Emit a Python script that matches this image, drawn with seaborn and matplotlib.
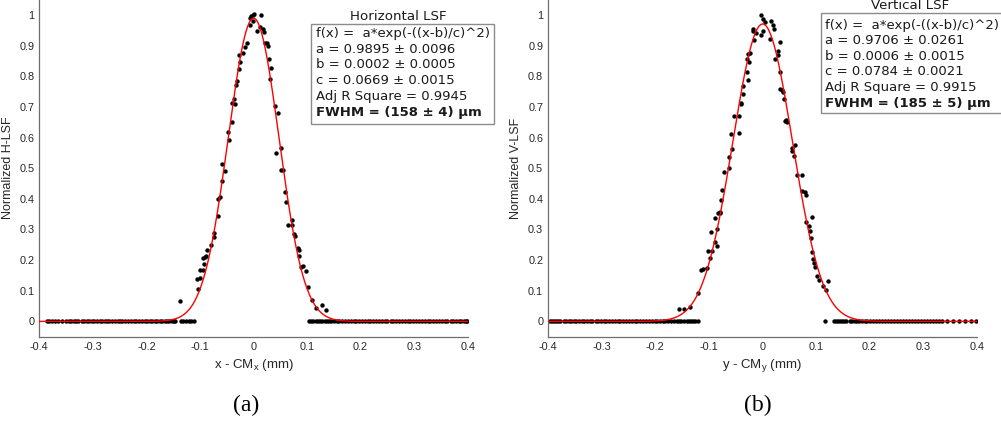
import numpy as np
import matplotlib
matplotlib.use("Agg")
import matplotlib.pyplot as plt
import seaborn as sns
from matplotlib.patches import Rectangle

# ---------------- Horizontal LSF: measured points ----------------
h_peak_x = [-0.0065, -0.0041, -0.0009, 0.0016, 0.0140, -0.0016, -0.0065, 0.0059, 0.0128,
            0.0183, 0.0190, 0.0220, 0.0258, 0.0264, -0.0128, -0.0152, -0.0196, -0.0270,
            -0.0252, 0.0296, 0.0326, -0.0277, 0.0302, -0.0302, -0.0326, -0.0357, -0.0395,
            -0.0351, 0.0395,
            0.046, 0.042, 0.052, 0.052, 0.056, 0.059, 0.060, 0.064, 0.071, 0.072, 0.076,
            0.077, 0.084, 0.085, 0.085, 0.089, 0.092, 0.098, 0.102, 0.109, 0.117, 0.128, 0.136,
            -0.041, -0.047, -0.046, -0.058, -0.053, -0.059, -0.062, -0.067, -0.067, -0.074,
            -0.073, -0.079, -0.087, -0.091, -0.088, -0.094, -0.092, -0.099, -0.094, -0.099,
            -0.106, -0.104, -0.138]
h_peak_y = [0.990, 0.996, 1.000, 1.002, 1.001, 0.980, 0.966, 0.948, 0.962,
            0.955, 0.945, 0.910, 0.908, 0.898, 0.907, 0.897, 0.877, 0.869,
            0.847, 0.856, 0.826, 0.823, 0.792, 0.783, 0.772, 0.727, 0.712,
            0.709, 0.704,
            0.679, 0.548, 0.565, 0.494, 0.494, 0.422, 0.391, 0.314, 0.331, 0.314, 0.286,
            0.278, 0.240, 0.232, 0.213, 0.178, 0.180, 0.164, 0.111, 0.069, 0.043, 0.054, 0.038,
            0.651, 0.617, 0.593, 0.515, 0.492, 0.457, 0.406, 0.401, 0.345, 0.289,
            0.277, 0.250, 0.233, 0.210, 0.214, 0.206, 0.188, 0.169, 0.167, 0.143,
            0.139, 0.105, 0.065]
# samples sitting on the baseline
h_zero_x = [-0.386, -0.382, -0.377, -0.371, -0.366, -0.358, -0.351, -0.345, -0.341, -0.336,
            -0.331, -0.327, -0.321, -0.316, -0.311, -0.307, -0.302, -0.297, -0.292, -0.287,
            -0.283, -0.278, -0.274, -0.270, -0.264, -0.258, -0.253, -0.249, -0.245, -0.240,
            -0.234, -0.229, -0.224, -0.220, -0.214, -0.208, -0.203, -0.199, -0.194, -0.189,
            -0.184, -0.180, -0.175, -0.170, -0.165, -0.161, -0.157, -0.153, -0.149, -0.146,
            -0.136, -0.131, -0.126, -0.121, -0.116, -0.111,
            0.104, 0.108, 0.112, 0.116, 0.120, 0.124, 0.128, 0.133, 0.137, 0.141, 0.145,
            0.150, 0.155, 0.160, 0.166, 0.171, 0.176, 0.182, 0.187, 0.192, 0.197, 0.203,
            0.208, 0.213, 0.218, 0.224, 0.229, 0.234, 0.240, 0.245, 0.250, 0.256, 0.261,
            0.266, 0.272, 0.277, 0.282, 0.288, 0.293, 0.298, 0.304, 0.309, 0.314, 0.320,
            0.325, 0.330, 0.336, 0.341, 0.346, 0.352, 0.357, 0.362, 0.368, 0.373, 0.378,
            0.383, 0.388, 0.393, 0.397, 0.399]

# ---------------- Vertical LSF: measured points ----------------
v_peak_x = [-0.003, 0.002, 0.0057, 0.0156, 0.020, 0.0224, -0.018, -0.0167, -0.0118, 0.0013,
            -0.0024, 0.0144, -0.0155, 0.0336, 0.0293, -0.0236, -0.0267, 0.0293, -0.0292,
            0.0243, -0.0254, 0.033, -0.0292, -0.0261, -0.0354, 0.0336, 0.0361, 0.0392,
            -0.036, 0.0411, -0.0397, 0.0442,
            -0.156, -0.147, -0.1355, -0.120, -0.115, -0.111, -0.103, -0.102, -0.0976,
            -0.0957, -0.0938, -0.0883, -0.0876, -0.0845, -0.0851, -0.0833, -0.0795, -0.0789,
            -0.0765, -0.0758, -0.0708, -0.0621, -0.0621, -0.0565, -0.0578, -0.0528, -0.0441,
            -0.0441, -0.0404,
            0.0424, 0.0461, 0.0548, 0.0554, 0.0617, 0.0592, 0.0647, 0.0741, 0.0741, 0.0797,
            0.0815, 0.0821, 0.0877, 0.0927, 0.089, 0.0909, 0.0921, 0.0946, 0.0971, 0.0989,
            0.1014, 0.1058, 0.1132, 0.1188, 0.1232]
v_peak_y = [1.001, 0.988, 0.976, 0.979, 0.966, 0.954, 0.955, 0.948, 0.940, 0.948,
            0.934, 0.921, 0.917, 0.912, 0.884, 0.876, 0.874, 0.868, 0.855,
            0.855, 0.847, 0.815, 0.814, 0.789, 0.767, 0.759, 0.754, 0.749,
            0.742, 0.725, 0.712, 0.658,
            0.039, 0.041, 0.047, 0.094, 0.169, 0.171, 0.175, 0.229, 0.207,
            0.292, 0.230, 0.338, 0.258, 0.246, 0.301, 0.353, 0.355, 0.357,
            0.396, 0.428, 0.488, 0.501, 0.538, 0.561, 0.610, 0.670, 0.616,
            0.670, 0.711,
            0.655, 0.651, 0.567, 0.557, 0.577, 0.539, 0.478, 0.477, 0.424, 0.422,
            0.413, 0.324, 0.310, 0.341, 0.294, 0.271, 0.226, 0.204, 0.190, 0.178,
            0.147, 0.136, 0.117, 0.101, 0.132]
v_zero_x = [-0.397, -0.393, -0.389, -0.385, -0.381, -0.377, -0.371, -0.366, -0.361, -0.357,
            -0.352, -0.347, -0.342, -0.337, -0.332, -0.327, -0.322, -0.317, -0.311, -0.306,
            -0.301, -0.296, -0.291, -0.286, -0.280, -0.275, -0.270, -0.265, -0.260, -0.254,
            -0.249, -0.243, -0.238, -0.233, -0.228, -0.222, -0.217, -0.211, -0.206, -0.201,
            -0.196, -0.191, -0.186, -0.181, -0.176, -0.171, -0.165, -0.160, -0.155, -0.151,
            -0.146, -0.141, -0.137, -0.133, -0.129, -0.125, -0.120,
            0.117, 0.133, 0.137, 0.141, 0.145, 0.149, 0.153, 0.157, 0.163, 0.168, 0.172,
            0.176, 0.181, 0.186, 0.191, 0.196, 0.201, 0.207, 0.212, 0.218, 0.223, 0.229,
            0.235, 0.240, 0.245, 0.251, 0.256, 0.262, 0.268, 0.273, 0.279, 0.285, 0.290,
            0.296, 0.301, 0.307, 0.313, 0.318, 0.324, 0.330, 0.336, 0.345, 0.356, 0.367,
            0.378, 0.389, 0.398]

# Gaussian fit parameters f(x) = a*exp(-((x-b)/c)^2)
h_fit = dict(a=0.9895, b=0.0002, c=0.0669)
v_fit = dict(a=0.9706, b=0.0006, c=0.0784)

h_box_lines = ["f(x) =  a*exp(-((x-b)/c)^2)", "a = 0.9895 \u00b1 0.0096",
               "b = 0.0002 \u00b1 0.0005", "c = 0.0669 \u00b1 0.0015",
               "Adj R Square = 0.9945", "FWHM = (158 \u00b1 4) \u03bcm"]
v_box_lines = ["f(x) =  a*exp(-((x-b)/c)^2)", "a = 0.9706 \u00b1 0.0261",
               "b = 0.0006 \u00b1 0.0015", "c = 0.0784 \u00b1 0.0021",
               "Adj R Square = 0.9915", "FWHM = (185 \u00b1 5) \u03bcm"]

xtick_vals = [-0.4, -0.3, -0.2, -0.1, 0.0, 0.1, 0.2, 0.3, 0.4]
xtick_labels = ["-0.4", "-0.3", "-0.2", "-0.1", "0", "0.1", "0.2", "0.3", "0.4"]
ytick_vals = [0.0, 0.1, 0.2, 0.3, 0.4, 0.5, 0.6, 0.7, 0.8, 0.9, 1.0]
ytick_labels = ["0", "0.1", "0.2", "0.3", "0.4", "0.5", "0.6", "0.7", "0.8", "0.9", "1"]

sns.set_style("white")
plt.rcParams["font.family"] = ["Liberation Sans", "DejaVu Sans"]

W, H = 1001, 425
fig = plt.figure(figsize=(W / 100, H / 100), dpi=100)


def fx(px):
    return px / W


def fy(py):
    return 1 - py / H


def panel(left_px, right_px, zx, peak_x, peak_y, fit, ylabel, xlabel):
    top_px, bottom_px = -0.35, 336.7
    ax = fig.add_axes([fx(left_px), fy(bottom_px), (right_px - left_px) / W,
                       (bottom_px - top_px) / H])
    xs = list(peak_x) + list(zx)
    ys = list(peak_y) + [0.0] * len(zx)
    sns.scatterplot(x=xs, y=ys, ax=ax, color="black", s=10, linewidth=0, zorder=2)
    grid = np.linspace(-0.4, 0.4, 801)
    curve = fit["a"] * np.exp(-((grid - fit["b"]) / fit["c"]) ** 2)
    sns.lineplot(x=grid, y=curve, ax=ax, color="red", linewidth=1.0, zorder=3)
    ax.set_xlim(-0.4, 0.4)
    ax.set_ylim(-0.05, 1.05)
    ax.set_xticks(xtick_vals)
    ax.set_xticklabels(xtick_labels)
    ax.set_yticks(ytick_vals)
    ax.set_yticklabels(ytick_labels)
    ax.tick_params(direction="in", length=4, width=0.8, color="#8a8a8a",
                   labelsize=7.8, labelcolor="#262626", pad=3.5)
    for s in ("top", "right"):
        ax.spines[s].set_visible(False)
    for s in ("left", "bottom"):
        ax.spines[s].set_color("#6e6e6e")
        ax.spines[s].set_linewidth(0.9)
    ax.set_ylabel(ylabel, fontsize=9, color="#262626", labelpad=4)
    ax.set_xlabel(xlabel, fontsize=9.5, color="#262626", labelpad=4)
    return ax


panel(39.3, 467.7, h_zero_x, h_peak_x, h_peak_y, h_fit,
      "Normalized H-LSF", r"x - CM$_\mathregular{x}$ (mm)")
panel(548.0, 976.7, v_zero_x, v_peak_x, v_peak_y, v_fit,
      "Normalized V-LSF", r"y - CM$_\mathregular{y}$ (mm)")


def fit_box(title, title_xy, rect, text_x, line_ys, lines):
    l, t, r, b = rect
    fig.patches.append(Rectangle((fx(l), fy(b)), (r - l) / W, (b - t) / H,
                                 transform=fig.transFigure, facecolor="white",
                                 edgecolor="#8c8c8c", linewidth=1.0, zorder=5))
    fig.text(fx(title_xy[0]), fy(title_xy[1]), title, family="DejaVu Sans",
             fontsize=9.6, ha="center", va="center", color="#1a1a1a", zorder=6)
    for i, (yy, s) in enumerate(zip(line_ys, lines)):
        fig.text(fx(text_x), fy(yy), s, family="DejaVu Sans", fontsize=9.5,
                 ha="left", va="center", color="#1a1a1a", zorder=6,
                 fontweight="bold" if i == len(lines) - 1 else "normal")


fit_box("Horizontal LSF", (398, 17), (310.7, 24.3, 494, 124), 315.7,
        [33.3, 49.3, 65.0, 80.7, 96.3, 112.3], h_box_lines)
fit_box("Vertical LSF", (910, 5.7), (820.7, 13.3, 1003, 113.3), 825,
        [25.0, 40.7, 56.0, 71.7, 87.7, 103.0], v_box_lines)

fig.text(fx(246), fy(405), "(a)", family="Liberation Serif", fontsize=17,
         ha="center", va="center", color="black")
fig.text(fx(758), fy(405), "(b)", family="Liberation Serif", fontsize=17,
         ha="center", va="center", color="black")

fig.savefig("out.png", dpi=100, facecolor="white")
